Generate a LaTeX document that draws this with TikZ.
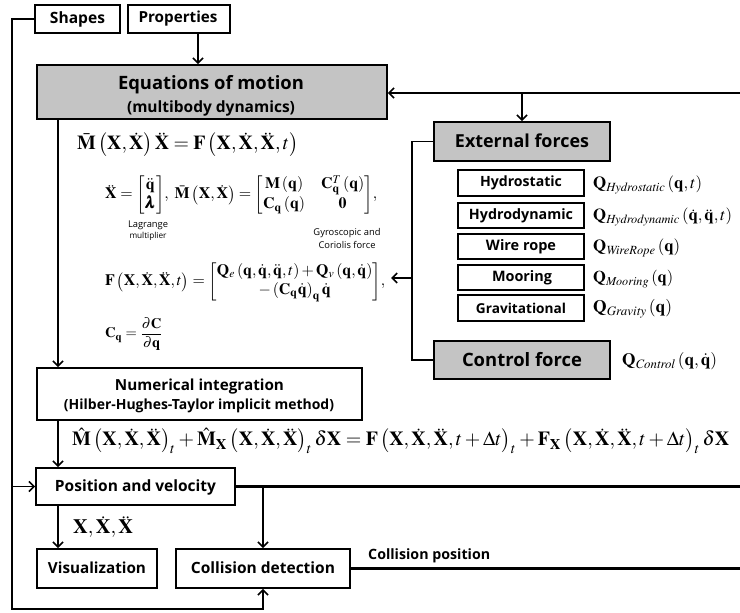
\documentclass[tikz,border=0pt]{standalone}
\usepackage{amsmath}
\usepackage{mathptmx}
\usepackage{bm}
\usepackage[no-math]{fontspec}
\setmainfont{Open Sans}
\usetikzlibrary{arrows.meta}
\definecolor{boxgray}{RGB}{196,196,196}
\newcommand{\rsz}[2]{\resizebox{#1pt}{!}{#2}}
\newcommand{\bX}{\mathbf X}
\newcommand{\dX}{\dot{\mathbf X}}
\newcommand{\ddX}{\ddot{\mathbf X}}
\newcommand{\bq}{\mathbf q}
\newcommand{\dq}{\dot{\mathbf q}}
\newcommand{\ddq}{\ddot{\mathbf q}}
\begin{document}
\begin{tikzpicture}[x=1pt,y=-1pt,
  box/.style={draw,line width=1.9pt,inner sep=0pt},
  gbox/.style={box,fill=boxgray},
  txt/.style={inner sep=0pt,font=\bfseries},
  small/.style={inner sep=0pt,font=\normalfont},
  eq/.style={anchor=west,inner sep=0pt},
  ln/.style={line width=1.7pt},
  lnw/.style={line width=2.1pt},
  arr/.style={line width=1.7pt,-{Straight Barb[length=5pt,width=10pt,line width=1.6pt]}}]
\useasboundingbox (0,0) rectangle (740,613);
% ---------- boxes ----------
\node[box,minimum width=85pt,minimum height=28pt] (shapes) at (77.5,19) {};
\node[box,minimum width=102pt,minimum height=28pt] (prop) at (179,19) {};
\node[gbox,minimum width=350pt,minimum height=54pt] (eom) at (212,92) {};
\node[gbox,minimum width=176pt,minimum height=39pt] (ext) at (522,141.5) {};
\node[box,minimum width=126pt,minimum height=26pt] (hs) at (521,183) {};
\node[box,minimum width=126pt,minimum height=25pt] (hd) at (521,215.5) {};
\node[box,minimum width=126pt,minimum height=25pt] (wr) at (521,246.5) {};
\node[box,minimum width=126pt,minimum height=25pt] (mo) at (521,277.5) {};
\node[box,minimum width=126pt,minimum height=26pt] (gr) at (521,308) {};
\node[gbox,minimum width=176pt,minimum height=38pt] (ctrl) at (522,360) {};
\node[box,minimum width=325pt,minimum height=52pt] (num) at (199.5,394) {};
\node[box,minimum width=199pt,minimum height=37pt] (pos) at (135.5,486.5) {};
\node[box,minimum width=120pt,minimum height=39pt] (vis) at (97,568.5) {};
\node[box,minimum width=174pt,minimum height=39pt] (coll) at (263,568.5) {};
% ---------- box texts ----------
\node[txt] (tshapes) at (77.5,19) {\rsz{55}{Shapes}};
\node[txt] (tprop) at (178,19) {\rsz{79}{Properties}};
\node[txt] (teom1) at (211,85) {\rsz{186}{Equations of motion}};
\node[txt] (teom2) at (211,108) {\rsz{168}{(multibody dynamics)}};
\node[txt] (text) at (522,141) {\rsz{134}{External forces}};
\node[txt] (ths) at (521,183) {\rsz{82}{Hydrostatic}};
\node[txt] (thd) at (521,215.5) {\rsz{104}{Hydrodynamic}};
\node[txt] (twr) at (521,246.5) {\rsz{70}{Wire rope}};
\node[txt] (tmo) at (522,277.5) {\rsz{60}{Mooring}};
\node[txt] (tgr) at (521,308) {\rsz{90}{Gravitational}};
\node[txt] (tctrl) at (522,360) {\rsz{120}{Control force}};
\node[txt] (tnum1) at (199.5,387) {\rsz{169}{Numerical integration}};
\node[txt] (tnum2) at (199,406) {\rsz{270}{(Hilber-Hughes-Taylor implicit method)}};
\node[txt] (tpos) at (135.5,487) {\rsz{161}{Position and velocity}};
\node[txt] (tvis) at (97,568) {\rsz{98}{Visualization}};
\node[txt] (tcoll) at (263,568) {\rsz{144}{Collision detection}};
\node[txt,anchor=west] (tcpos) at (368,556) {\rsz{122}{Collision position}};
% ---------- equations ----------
\node[eq] (eq1) at (77,145) {\rsz{221}{$\bar{\mathbf M}\left(\bX,\dX\right)\ddX=\mathbf F\left(\bX,\dX,\ddX,t\right)$}};
\node[eq] (eq2) at (105,195) {\rsz{272}{$\ddX=\begin{bmatrix}\ddq\\ \bm\lambda\end{bmatrix}\!,\ \bar{\mathbf M}\left(\bX,\dX\right)=\begin{bmatrix}\mathbf M\left(\bq\right) & \mathbf C_{\bq}^{T}\left(\bq\right)\\ \mathbf C_{\bq}\left(\bq\right) & \mathbf 0\end{bmatrix}\!,$}};
\node[small] (tlag1) at (148,225) {\rsz{40}{Lagrange}};
\node[small] (tlag2) at (148,236) {\rsz{37}{multiplier}};
\node[small] (tgyr1) at (347,233) {\rsz{67}{Gyroscopic and}};
\node[small] (tgyr2) at (347,245) {\rsz{57}{Coriolis force}};
\node[eq] (feq) at (105,282) {\rsz{280}{$\mathbf F\left(\bX,\dX,\ddX,t\right)=\begin{bmatrix}\mathbf Q_e\left(\bq,\dq,\ddq,t\right)+\mathbf Q_v\left(\bq,\dq\right)\\ -\left(\mathbf C_{\bq}\dq\right)_{\bq}\dq\end{bmatrix}\!,$}};
\node[eq] (eq4) at (105,334) {\rsz{58}{$\mathbf C_{\bq}=\dfrac{\partial\mathbf C}{\partial\bq}$}};
\node[eq] (hht) at (72,441) {\rsz{657}{$\hat{\mathbf M}\left(\bX,\dX,\ddX\right)_t+\hat{\mathbf M}_{\bX}\left(\bX,\dX,\ddX\right)_t\delta\bX=\mathbf F\left(\bX,\dX,\ddX,t+\Delta t\right)_t+\mathbf F_{\bX}\left(\bX,\dX,\ddX,t+\Delta t\right)_t\delta\bX$}};
\node[eq] (xlab) at (73,527) {\rsz{60}{$\bX,\dX,\ddX$}};
\node[eq] (qhs) at (593,185) {\rsz{109}{$\mathbf Q_{\mathit{Hydrostatic}}\left(\bq,t\right)$}};
\node[eq] (qhd) at (593,217) {\rsz{139}{$\mathbf Q_{\mathit{Hydrodynamic}}\left(\dq,\ddq,t\right)$}};
\node[eq] (qwr) at (593,248) {\rsz{87}{$\mathbf Q_{\mathit{WireRope}}\left(\bq\right)$}};
\node[eq] (qmo) at (593,279) {\rsz{80}{$\mathbf Q_{\mathit{Mooring}}\left(\bq\right)$}};
\node[eq] (qgr) at (593,309) {\rsz{79}{$\mathbf Q_{\mathit{Gravity}}\left(\bq\right)$}};
\node[eq] (qct) at (622,361) {\rsz{95}{$\mathbf Q_{\mathit{Control}}\left(\bq,\dq\right)$}};
% ---------- helper coordinates ----------
\coordinate (cx) at (58,0);
\coordinate (px) at (198,0);
\coordinate (lx) at (12,0);
\coordinate (vx) at (412,0);
\coordinate (rx) at (740,0);
\coordinate (bl) at (12,609);
\coordinate (r1) at (740,93);
\coordinate (ftip) at (391,278);
% ---------- connectors ----------
\draw[arr] (prop.south -| px) -- (eom.north -| px);
\draw[arr] (shapes.west) -| (bl) -| (coll.south);
\draw[arr] (lx |- pos.west) -- (pos.west);
\draw[arr,line width=2.1pt] (r1) -- (eom.east |- r1);
\draw[arr] (ext.north |- r1) -- (ext.north);
\draw[ln] (ext.west) -| (vx |- ctrl.west) -- (ctrl.west);
\draw[arr] (vx |- ftip) -- (ftip);
\draw[arr] (eom.south -| cx) -- (num.north -| cx);
\draw[arr] (num.south -| cx) -- (pos.north -| cx);
\draw[arr] (pos.south -| cx) -- (vis.north -| cx);
\draw[lnw] (pos.east) -- (rx |- pos.east);
\draw[arr] (coll.north |- pos.east) -- (coll.north);
\draw[lnw] (coll.east) -- (rx |- coll.east);
\end{tikzpicture}
\end{document}
